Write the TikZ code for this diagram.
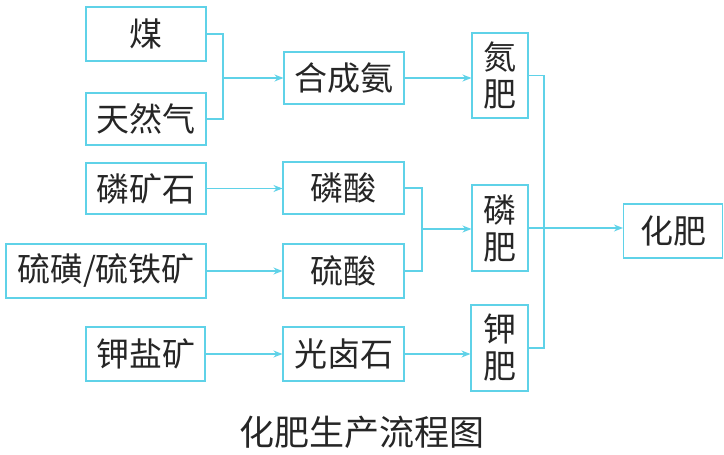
\documentclass[tikz,border=0pt]{standalone}
\usepackage{fontspec}
\newfontfamily\cjk{Noto Sans CJK SC}
\usetikzlibrary{arrows.meta}
\definecolor{flowc}{RGB}{95,210,232}
\tikzset{
  box/.style={draw=flowc, line width=1.1pt, inner sep=0pt, font=\cjk\fontsize{33}{37}\selectfont, text=black!85, align=center},
  conn/.style={draw=flowc, line width=1.1pt},
  arr/.style={conn, -{Stealth[length=9pt,width=7pt]}}
}
\begin{document}
\begin{tikzpicture}[x=1pt,y=-1pt]
\useasboundingbox (0,0) rectangle (724,455);
\node[box, minimum width=120pt, minimum height=54pt] (coal) at (146,34) {煤};
\node[box, minimum width=120pt, minimum height=52pt] (gas) at (146,119) {天然气};
\node[box, minimum width=120pt, minimum height=52pt] (nh3) at (344,78) {合成氨};
\node[box, minimum width=56pt, minimum height=85pt] (nfert) at (500,75.5) {氮\\肥};
\node[box, minimum width=99pt, minimum height=54pt] (final) at (673,231) {化肥};
\node[box, minimum width=56pt, minimum height=86pt] (pfert) at (500,228) {磷\\肥};
\node[box, minimum width=57pt, minimum height=86pt] (kfert) at (499.5,348) {钾\\肥};
\node[box, minimum width=120pt, minimum height=51pt] (prock) at (146,188.5) {磷矿石};
\node[box, minimum width=121pt, minimum height=52pt] (pacid) at (343.5,188) {磷酸};
\node[box, minimum width=200pt, minimum height=54pt] (sulf) at (106,271) {硫磺/硫铁矿};
\node[box, minimum width=121pt, minimum height=54pt] (sacid) at (343.5,271) {硫酸};
\node[box, minimum width=119pt, minimum height=54pt] (kore) at (145.5,354) {钾盐矿};
\node[box, minimum width=121pt, minimum height=54pt] (carn) at (343.5,354) {光卤石};
\node[font=\cjk\fontsize{35}{40}\selectfont, text=black!85] (cap) at (362,432) {化肥生产流程图};
\coordinate (j1) at (223,78);
\coordinate (j2) at (422,229);
\coordinate (j3) at (544,228);
\draw[conn] (coal.east) -| (j1) |- (gas.east);
\draw[arr] (j1) -- (j1 -| nh3.west);
\draw[arr] (nh3.east) -- (nh3.east -| nfert.west);
\draw[arr] (prock.east) -- (prock.east -| pacid.west);
\draw[arr] (sulf.east) -- (sulf.east -| sacid.west);
\draw[arr] (kore.east) -- (kore.east -| carn.west);
\draw[arr] (carn.east) -- (carn.east -| kfert.west);
\draw[conn] (pacid.east) -| (j2) |- (sacid.east);
\draw[arr] (j2) -- (j2 -| pfert.west);
\draw[conn] (nfert.east) -| (j3) |- (kfert.east);
\draw[arr] (pfert.east) -- (pfert.east -| final.west);
\end{tikzpicture}
\end{document}
